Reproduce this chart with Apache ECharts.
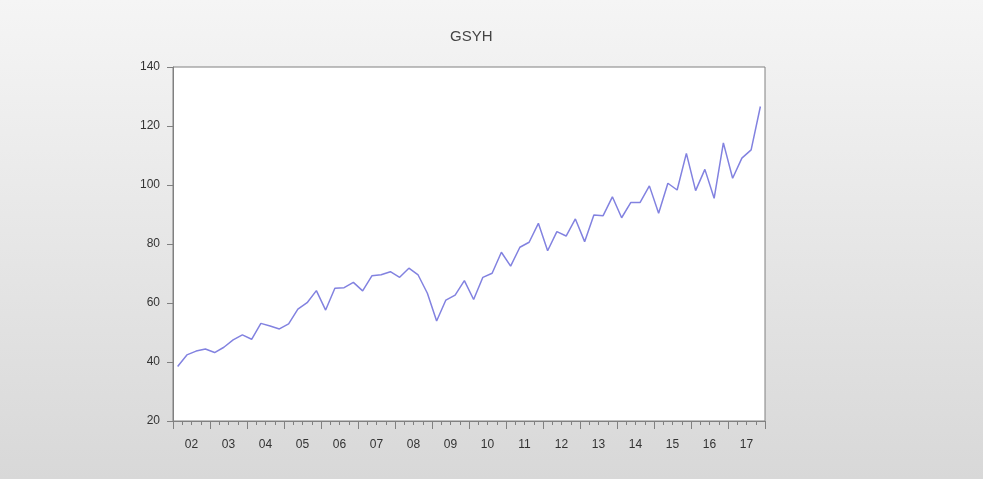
<!DOCTYPE html>
<html>
<head>
<meta charset="utf-8">
<script src="https://cdn.jsdelivr.net/npm/echarts@6/dist/echarts.min.js"></script>
<style>
html,body{margin:0;padding:0;}
#chart{width:983px;height:479px;}
</style>
</head>
<body>
<div id="chart"></div>
<script>
var title = 'GSYH';
var yearLabels = ['02','03','04','05','06','07','08','09','10','11','12','13','14','15','16','17'];
var quarters = [];
yearLabels.forEach(function(y){ for (var q = 1; q <= 4; q++) quarters.push('20' + y + 'Q' + q); });
var gsyh = [
  38.5, 42.4, 43.7, 44.4, 43.2, 45.0, 47.5, 49.2,
  47.7, 53.1, 52.2, 51.2, 52.9, 57.9, 60.1, 64.2,
  57.6, 65.0, 65.2, 67.0, 64.1, 69.2, 69.6, 70.6,
  68.7, 71.8, 69.5, 63.3, 53.9, 61.0, 62.7, 67.6,
  61.2, 68.7, 70.1, 77.2, 72.5, 78.9, 80.6, 87.0,
  77.7, 84.2, 82.7, 88.5, 80.8, 89.8, 89.6, 96.0,
  88.9, 94.1, 94.1, 99.7, 90.4, 100.6, 98.3, 110.7,
  98.1, 105.3, 95.5, 114.3, 102.3, 109.1, 111.9, 126.6
];

var chart = echarts.init(document.getElementById('chart'), null, {renderer: 'canvas'});
var axisGray = '#808080';
var labelColor = '#333333';
var fontFam = 'Liberation Sans, Arial, sans-serif';

chart.setOption({
  backgroundColor: {
    type: 'linear', x: 0, y: 0, x2: 0, y2: 1,
    colorStops: [{offset: 0, color: '#f5f5f5'}, {offset: 1, color: '#d8d8d8'}]
  },
  animation: false,
  title: {
    text: title,
    left: 445,
    top: 24,
    textStyle: {fontSize: 15, fontWeight: 'normal', color: '#444444', fontFamily: fontFam}
  },
  grid: {
    left: 173, right: 218, top: 67, bottom: 58,
    show: true, backgroundColor: '#ffffff', borderColor: axisGray, borderWidth: 1
  },
  xAxis: [
    {
      type: 'category', data: quarters, boundaryGap: true, position: 'bottom',
      axisLine: {show: true, lineStyle: {color: axisGray}},
      axisTick: {show: true, interval: 0, length: 4, lineStyle: {color: axisGray}},
      axisLabel: {show: false},
      splitLine: {show: false}
    },
    {
      type: 'category', data: yearLabels, boundaryGap: true, position: 'bottom',
      axisLine: {show: false},
      axisTick: {show: true, interval: 0, length: 8, lineStyle: {color: axisGray}},
      axisLabel: {show: true, interval: 0, margin: 18, color: labelColor, fontSize: 12, fontFamily: fontFam},
      splitLine: {show: false}
    }
  ],
  yAxis: {
    type: 'value', min: 20, max: 140, interval: 20,
    axisLine: {show: true, lineStyle: {color: axisGray}},
    axisTick: {show: true, length: 6, lineStyle: {color: axisGray}},
    axisLabel: {color: labelColor, fontSize: 12, margin: 13, fontFamily: fontFam},
    splitLine: {show: false}
  },
  series: [{
    type: 'line', xAxisIndex: 0, data: gsyh, symbol: 'none',
    lineStyle: {color: '#8282e0', width: 1.5}
  }]
});
</script>
</body>
</html>
